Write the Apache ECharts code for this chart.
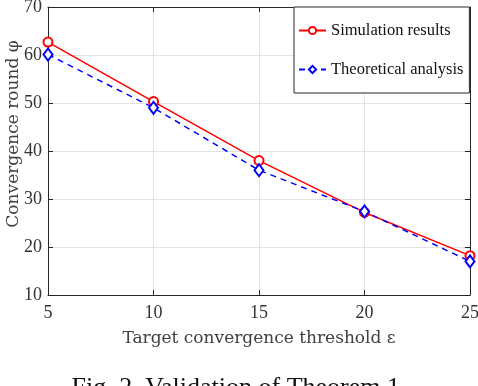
<!DOCTYPE html>
<html>
<head>
<meta charset="utf-8">
<script src="https://cdn.jsdelivr.net/npm/echarts@6/dist/echarts.min.js"></script>
<style>
  html, body { margin: 0; padding: 0; background: #fff; }
  #chart { width: 478px; height: 386px; }
</style>
</head>
<body>
<div id="chart"></div>
<script>
// threshold values (x)
var thresholds = [5, 10, 15, 20, 25];
// convergence rounds
var simulation = [62.7, 50.3, 38.0, 27.2, 18.2];
var theoretical = [60.1, 49.0, 36.0, 27.4, 17.0];

var font = "Liberation Serif";
var nameFont = "DejaVu Serif";

function pairs(xs, ys) {
  return xs.map(function (x, i) { return [x, ys[i]]; });
}

var chart = echarts.init(document.getElementById("chart"));

var tickStyle = { show: true, inside: true, length: 5, lineStyle: { color: "#262626" } };
var lineStyle = { lineStyle: { color: "#262626", width: 1 } };

var option = {
  animation: false,
  title: {
    text: "Fig. 2. Validation of Theorem 1.",
    left: "center",
    top: 370,
    textStyle: { fontFamily: font, fontSize: 26, fontWeight: "normal", color: "#111" }
  },
  grid: { left: 48, right: 8, top: 7, bottom: 91, outerBoundsMode: "none" },
  legend: {
    orient: "vertical",
    left: 294,
    top: 7,
    width: 176,
    padding: [15, 6, 15, 4],
    itemGap: 22,
    itemWidth: 27,
    itemHeight: 9,
    backgroundColor: "#fff",
    borderColor: "#262626",
    borderWidth: 1,
    textStyle: { fontFamily: font, fontSize: 16.5, color: "#111" },
    data: ["Simulation results", "Theoretical analysis"]
  },
  xAxis: [
    {
      type: "value",
      min: 5, max: 25, interval: 5,
      name: "Target convergence threshold ε",
      nameLocation: "middle",
      nameGap: 35,
      nameMoveOverlap: false,
      nameTextStyle: { fontFamily: nameFont, fontSize: 17, color: "#404040" },
      axisLine: lineStyle,
      axisTick: tickStyle,
      axisLabel: { margin: 9, fontFamily: font, fontSize: 18, color: "#333" },
      splitLine: { show: true, lineStyle: { color: "#e3e3e3" } }
    },
    {
      type: "value", position: "top",
      min: 5, max: 25, interval: 5,
      axisLine: lineStyle, axisTick: tickStyle,
      axisLabel: { show: false }, splitLine: { show: false }
    }
  ],
  yAxis: [
    {
      type: "value",
      min: 10, max: 70, interval: 10,
      name: "Convergence round φ",
      nameLocation: "middle",
      nameGap: 26,
      nameMoveOverlap: false,
      nameTextStyle: { fontFamily: nameFont, fontSize: 17, color: "#404040", padding: [0, 0, 0, 34] },
      axisLine: lineStyle,
      axisTick: tickStyle,
      axisLabel: { margin: 6, fontFamily: font, fontSize: 18, color: "#333" },
      splitLine: { show: true, lineStyle: { color: "#e3e3e3" } }
    },
    {
      type: "value", position: "right",
      min: 10, max: 70, interval: 10,
      axisLine: lineStyle, axisTick: tickStyle,
      axisLabel: { show: false }, splitLine: { show: false }
    }
  ],
  series: [
    {
      name: "Simulation results",
      type: "line",
      data: pairs(thresholds, simulation),
      symbol: "emptyCircle",
      symbolSize: 9,
      color: "#ff0000",
      lineStyle: { width: 1.5, color: "#ff0000" },
      itemStyle: { color: "#ff0000", borderWidth: 1.3 }
    },
    {
      name: "Theoretical analysis",
      type: "line",
      data: pairs(thresholds, theoretical),
      symbol: "emptyDiamond",
      symbolSize: [9, 12],
      color: "#0000ff",
      lineStyle: { width: 1.5, type: [6, 5], color: "#0000ff" },
      itemStyle: { color: "#0000ff", borderWidth: 1.3 }
    }
  ]
};

chart.setOption(option);
</script>
</body>
</html>
